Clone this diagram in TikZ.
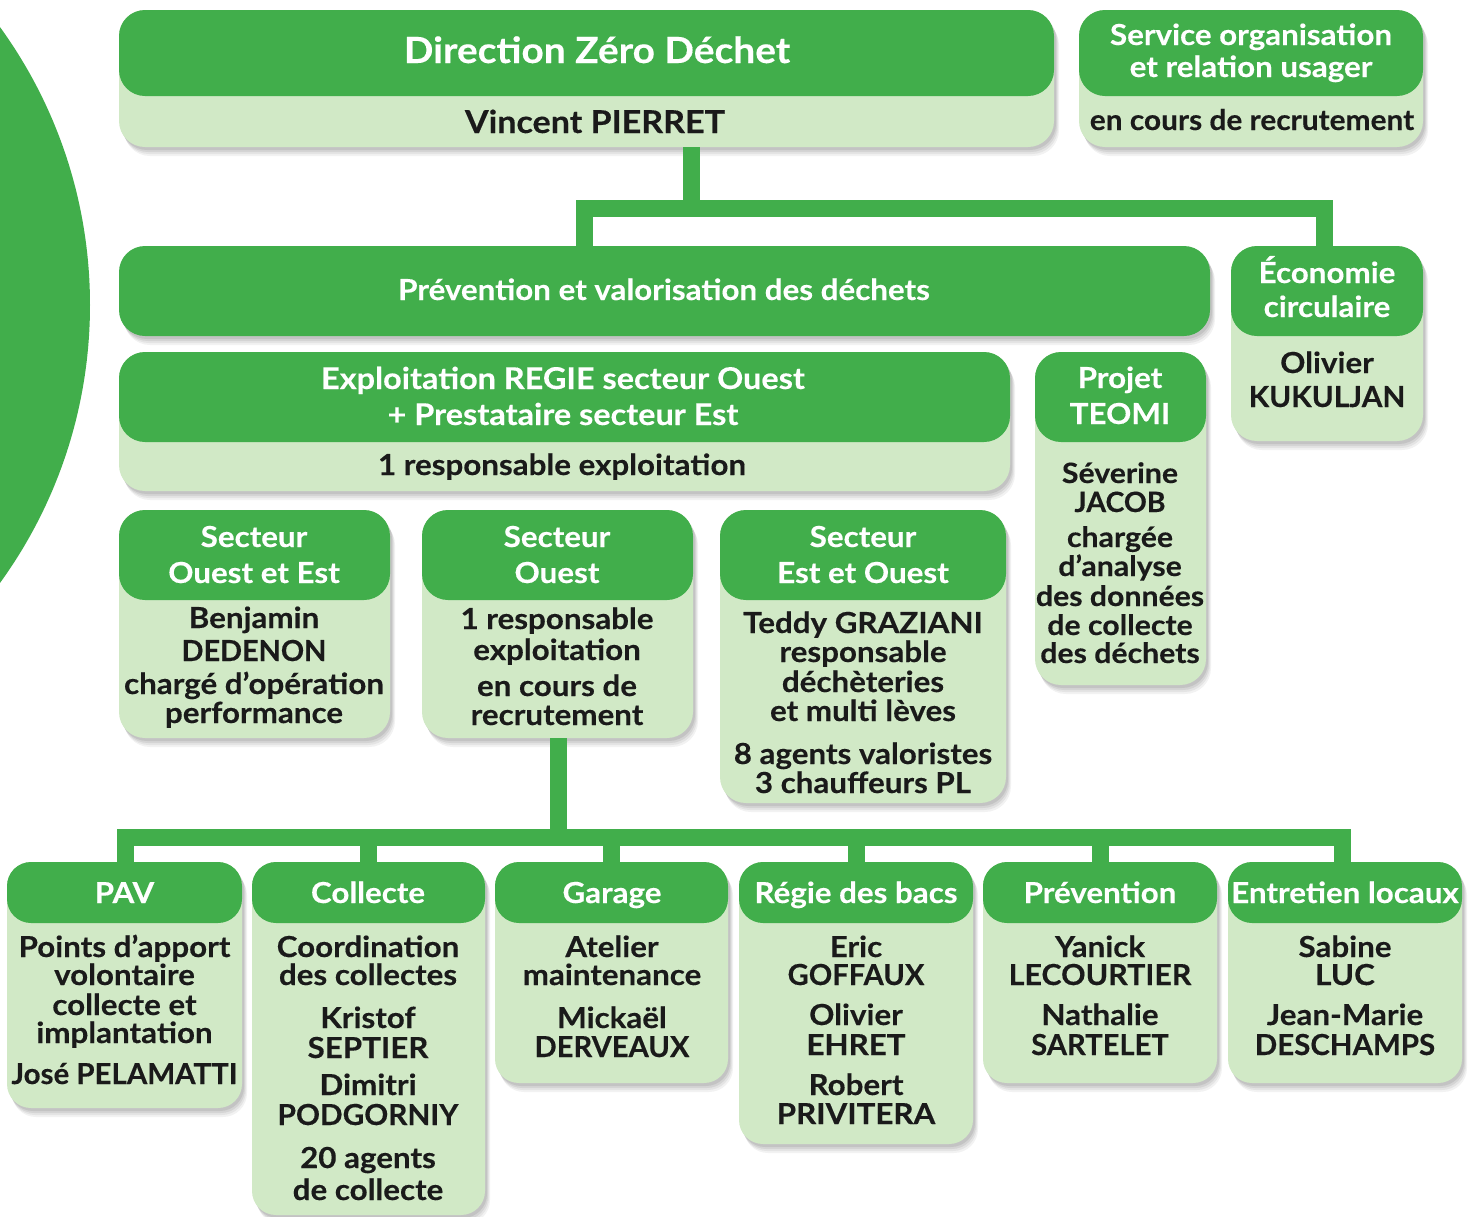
\documentclass[tikz,border=0pt]{standalone}
\usepackage{graphicx}
\usepackage{fontspec}
\setmainfont{Lato}[BoldFeatures={FakeStretch=1.08,FakeBold=0.3}]
\usetikzlibrary{shadows}
\definecolor{dg}{HTML}{41AE4B}
\definecolor{lg}{HTML}{D1E9C6}
\definecolor{ink}{HTML}{1A1A1A}
\tikzset{
  softshadow/.style={
    general shadow={fill=black, opacity=0.05, shadow xshift=5pt, shadow yshift=-9pt},
    general shadow={fill=black, opacity=0.06, shadow xshift=4pt, shadow yshift=-7pt},
    general shadow={fill=black, opacity=0.07, shadow xshift=3pt, shadow yshift=-5pt},
    general shadow={fill=black, opacity=0.08, shadow xshift=2pt, shadow yshift=-3pt}},
  bodybox/.style={fill=lg, rounded corners=26pt, inner sep=0pt, outer sep=0pt, anchor=north west, softshadow},
  headbox/.style={fill=dg, rounded corners=26pt, inner sep=0pt, outer sep=0pt, anchor=north west},
  fs/.style={font=\bfseries\fontsize{#1}{#1}\selectfont},
  htxt/.style={anchor=base, text=white, inner sep=0pt, fs=29},
  btxt/.style={anchor=base, text=ink, inner sep=0pt, fs=29},
  conn/.style={draw=dg, line width=17pt, line join=miter, line cap=butt}
}
\newcommand\sqz[2][0.94]{\scalebox{#1}[1]{#2}}
\newcommand\txtlines[4]{\foreach \by/\tx [count=\k] in {#4} {\node[#3] (#1-\k) at (#2,\by) {\tx};}}
\begin{document}
\begin{tikzpicture}[x=1pt,y=-1pt]
\useasboundingbox (0,0) rectangle (1472,1216);
\clip (0,0) rectangle (1472,1216);
\fill[dg] (-384,305) circle [radius=474pt];

% Direction
\node[bodybox, minimum width=935, minimum height=137] (dir) at (119,10) {};
\node[headbox, minimum width=935, minimum height=86] (dirh) at (119,10) {};
\txtlines{dirt}{597}{htxt,fs=36}{63/Direction Zéro Déchet}
\txtlines{dirb}{595}{btxt,fs=31.5}{133/Vincent PIERRET}

% Service organisation
\node[bodybox, minimum width=344, minimum height=137] (serv) at (1079,10) {};
\node[headbox, minimum width=344, minimum height=86] (servh) at (1079,10) {};
\txtlines{servt}{1251}{htxt,fs=29}{45/Service organisation, 77/et relation usager}
\txtlines{servb}{1252}{btxt,fs=28.5}{130/\sqz[0.97]{en cours de recrutement}}

% Prevention et valorisation
\node[headbox, softshadow, minimum width=1091, minimum height=90] (prev) at (119,246) {};
\txtlines{prevt}{664}{htxt,fs=29}{300/Prévention et valorisation des déchets}

% Economie circulaire
\node[bodybox, minimum width=192, minimum height=195] (eco) at (1231,246) {};
\node[headbox, minimum width=192, minimum height=90] (ecoh) at (1231,246) {};
\txtlines{ecot}{1327}{htxt}{283/Économie, 317/circulaire}
\txtlines{ecob}{1327}{btxt}{373/Olivier, 407/\sqz[0.95]{KUKULJAN}}

% Exploitation
\node[bodybox, minimum width=891, minimum height=139] (expl) at (119,352) {};
\node[headbox, minimum width=891, minimum height=90] (explh) at (119,352) {};
\txtlines{explt}{563}{htxt,fs=30}{389/Exploitation REGIE secteur Ouest, 425/+ Prestataire secteur Est}
\txtlines{explb}{562}{btxt}{475/1 responsable exploitation}

% Projet TEOMI
\node[bodybox, minimum width=171, minimum height=333] (teo) at (1035,352) {};
\node[headbox, minimum width=171, minimum height=90] (teoh) at (1035,352) {};
\txtlines{teot}{1120}{htxt}{388/Projet, 424/TEOMI}
\txtlines{teob}{1120}{btxt,fs=28}{483/Séverine, 512/\sqz{JACOB}, 547/chargée, 576/d’analyse, 606/des données, 635/de collecte, 663/des déchets}

% Secteurs
\node[bodybox, minimum width=271, minimum height=228] (soe) at (119,510) {};
\node[headbox, minimum width=271, minimum height=90] (soeh) at (119,510) {};
\txtlines{soet}{254}{htxt}{547/Secteur, 583/Ouest et Est}
\txtlines{soeb}{254}{btxt}{628/Benjamin, 661/\sqz[0.92]{DEDENON}, 694/chargé d’opération, 723/performance}

\node[bodybox, minimum width=271, minimum height=228] (so) at (422,510) {};
\node[headbox, minimum width=271, minimum height=90] (soh) at (422,510) {};
\txtlines{sot}{557}{htxt}{547/Secteur, 583/Ouest}
\txtlines{sob}{557}{btxt}{629/1 responsable, 660/exploitation, 696/en cours de, 725/recrutement}

\node[bodybox, minimum width=286, minimum height=293] (seo) at (720,510) {};
\node[headbox, minimum width=286, minimum height=90] (seoh) at (720,510) {};
\txtlines{seot}{863}{htxt}{547/Secteur, 583/Est et Ouest}
\txtlines{seob}{863}{btxt}{633/Teddy GRAZIANI, 662/responsable, 692/déchèteries, 721/et multi lèves, 764/8 agents valoristes, 793/3 chauffeurs PL}

% Bottom row
\node[bodybox, rounded corners=24pt, minimum width=235, minimum height=246] (pav) at (7,862) {};
\node[headbox, rounded corners=24pt, minimum width=235, minimum height=61] (pavh) at (7,862) {};
\txtlines{pavt}{124.5}{htxt}{903/PAV}
\txtlines{pavb}{124.5}{btxt}{957/Points d’apport, 985/volontaire, 1015/collecte et, 1043/implantation, 1084/\sqz{José PELAMATTI}}

\node[bodybox, rounded corners=24pt, minimum width=233, minimum height=353] (coll) at (252,862) {};
\node[headbox, rounded corners=24pt, minimum width=233, minimum height=61] (collh) at (252,862) {};
\txtlines{collt}{368}{htxt}{903/Collecte}
\txtlines{collb}{368}{btxt}{957/Coordination, 985/des collectes, 1028/Kristof, 1058/SEPTIER, 1095/Dimitri, 1125/\sqz[0.95]{PODGORNIY}, 1168/20 agents, 1200/de collecte}

\node[bodybox, rounded corners=24pt, minimum width=233, minimum height=221] (gar) at (495,862) {};
\node[headbox, rounded corners=24pt, minimum width=233, minimum height=61] (garh) at (495,862) {};
\txtlines{gart}{612}{htxt}{903/Garage}
\txtlines{garb}{612}{btxt}{957/Atelier, 985/maintenance, 1028/Mickaël, 1057/\sqz[0.93]{DERVEAUX}}

\node[bodybox, rounded corners=24pt, minimum width=234, minimum height=282] (reg) at (739,862) {};
\node[headbox, rounded corners=24pt, minimum width=234, minimum height=61] (regh) at (739,862) {};
\txtlines{regt}{856}{htxt}{903/Régie des bacs}
\txtlines{regb}{856}{btxt}{957/Eric, 985/\sqz[0.93]{GOFFAUX}, 1025/Olivier, 1055/EHRET, 1095/Robert, 1124/PRIVITERA}

\node[bodybox, rounded corners=24pt, minimum width=234, minimum height=221] (prv) at (983,862) {};
\node[headbox, rounded corners=24pt, minimum width=234, minimum height=61] (prvh) at (983,862) {};
\txtlines{prvt}{1100}{htxt}{903/Prévention}
\txtlines{prvb}{1100}{btxt}{957/Yanick, 985/\sqz[0.97]{LECOURTIER}, 1025/Nathalie, 1055/\sqz[0.93]{SARTELET}}

\node[bodybox, rounded corners=24pt, minimum width=234, minimum height=221] (ent) at (1228,862) {};
\node[headbox, rounded corners=24pt, minimum width=234, minimum height=61] (enth) at (1228,862) {};
\txtlines{entt}{1345}{htxt}{903/Entretien locaux}
\txtlines{entb}{1345}{btxt}{957/Sabine, 985/LUC, 1025/Jean-Marie, 1055/\sqz{DESCHAMPS}}

% Connectors
\coordinate (jA) at (691,208.5);
\coordinate (jAl) at (584.5,208.5);
\coordinate (jAr) at (1324,208.5);
\draw[conn] (dir.south -| jA) -- (jA);
\draw[conn] (prev.north -| jAl) -- (jAl) -- (jAr) -- (eco.north -| jAr);

\coordinate (jB) at (558,837.5);
\coordinate (jBl) at (125,837.5);
\coordinate (jBr) at (1342.5,837.5);
\draw[conn] (so.south -| jB) -- (jB);
\draw[conn] (pavh.north -| jBl) -- (jBl) -- (jBr) -- (enth.north -| jBr);
\draw[conn] (collh.north) -- (collh.north |- jB);
\draw[conn] (garh.north) -- (garh.north |- jB);
\draw[conn] (regh.north) -- (regh.north |- jB);
\draw[conn] (prvh.north) -- (prvh.north |- jB);
\end{tikzpicture}
\end{document}
